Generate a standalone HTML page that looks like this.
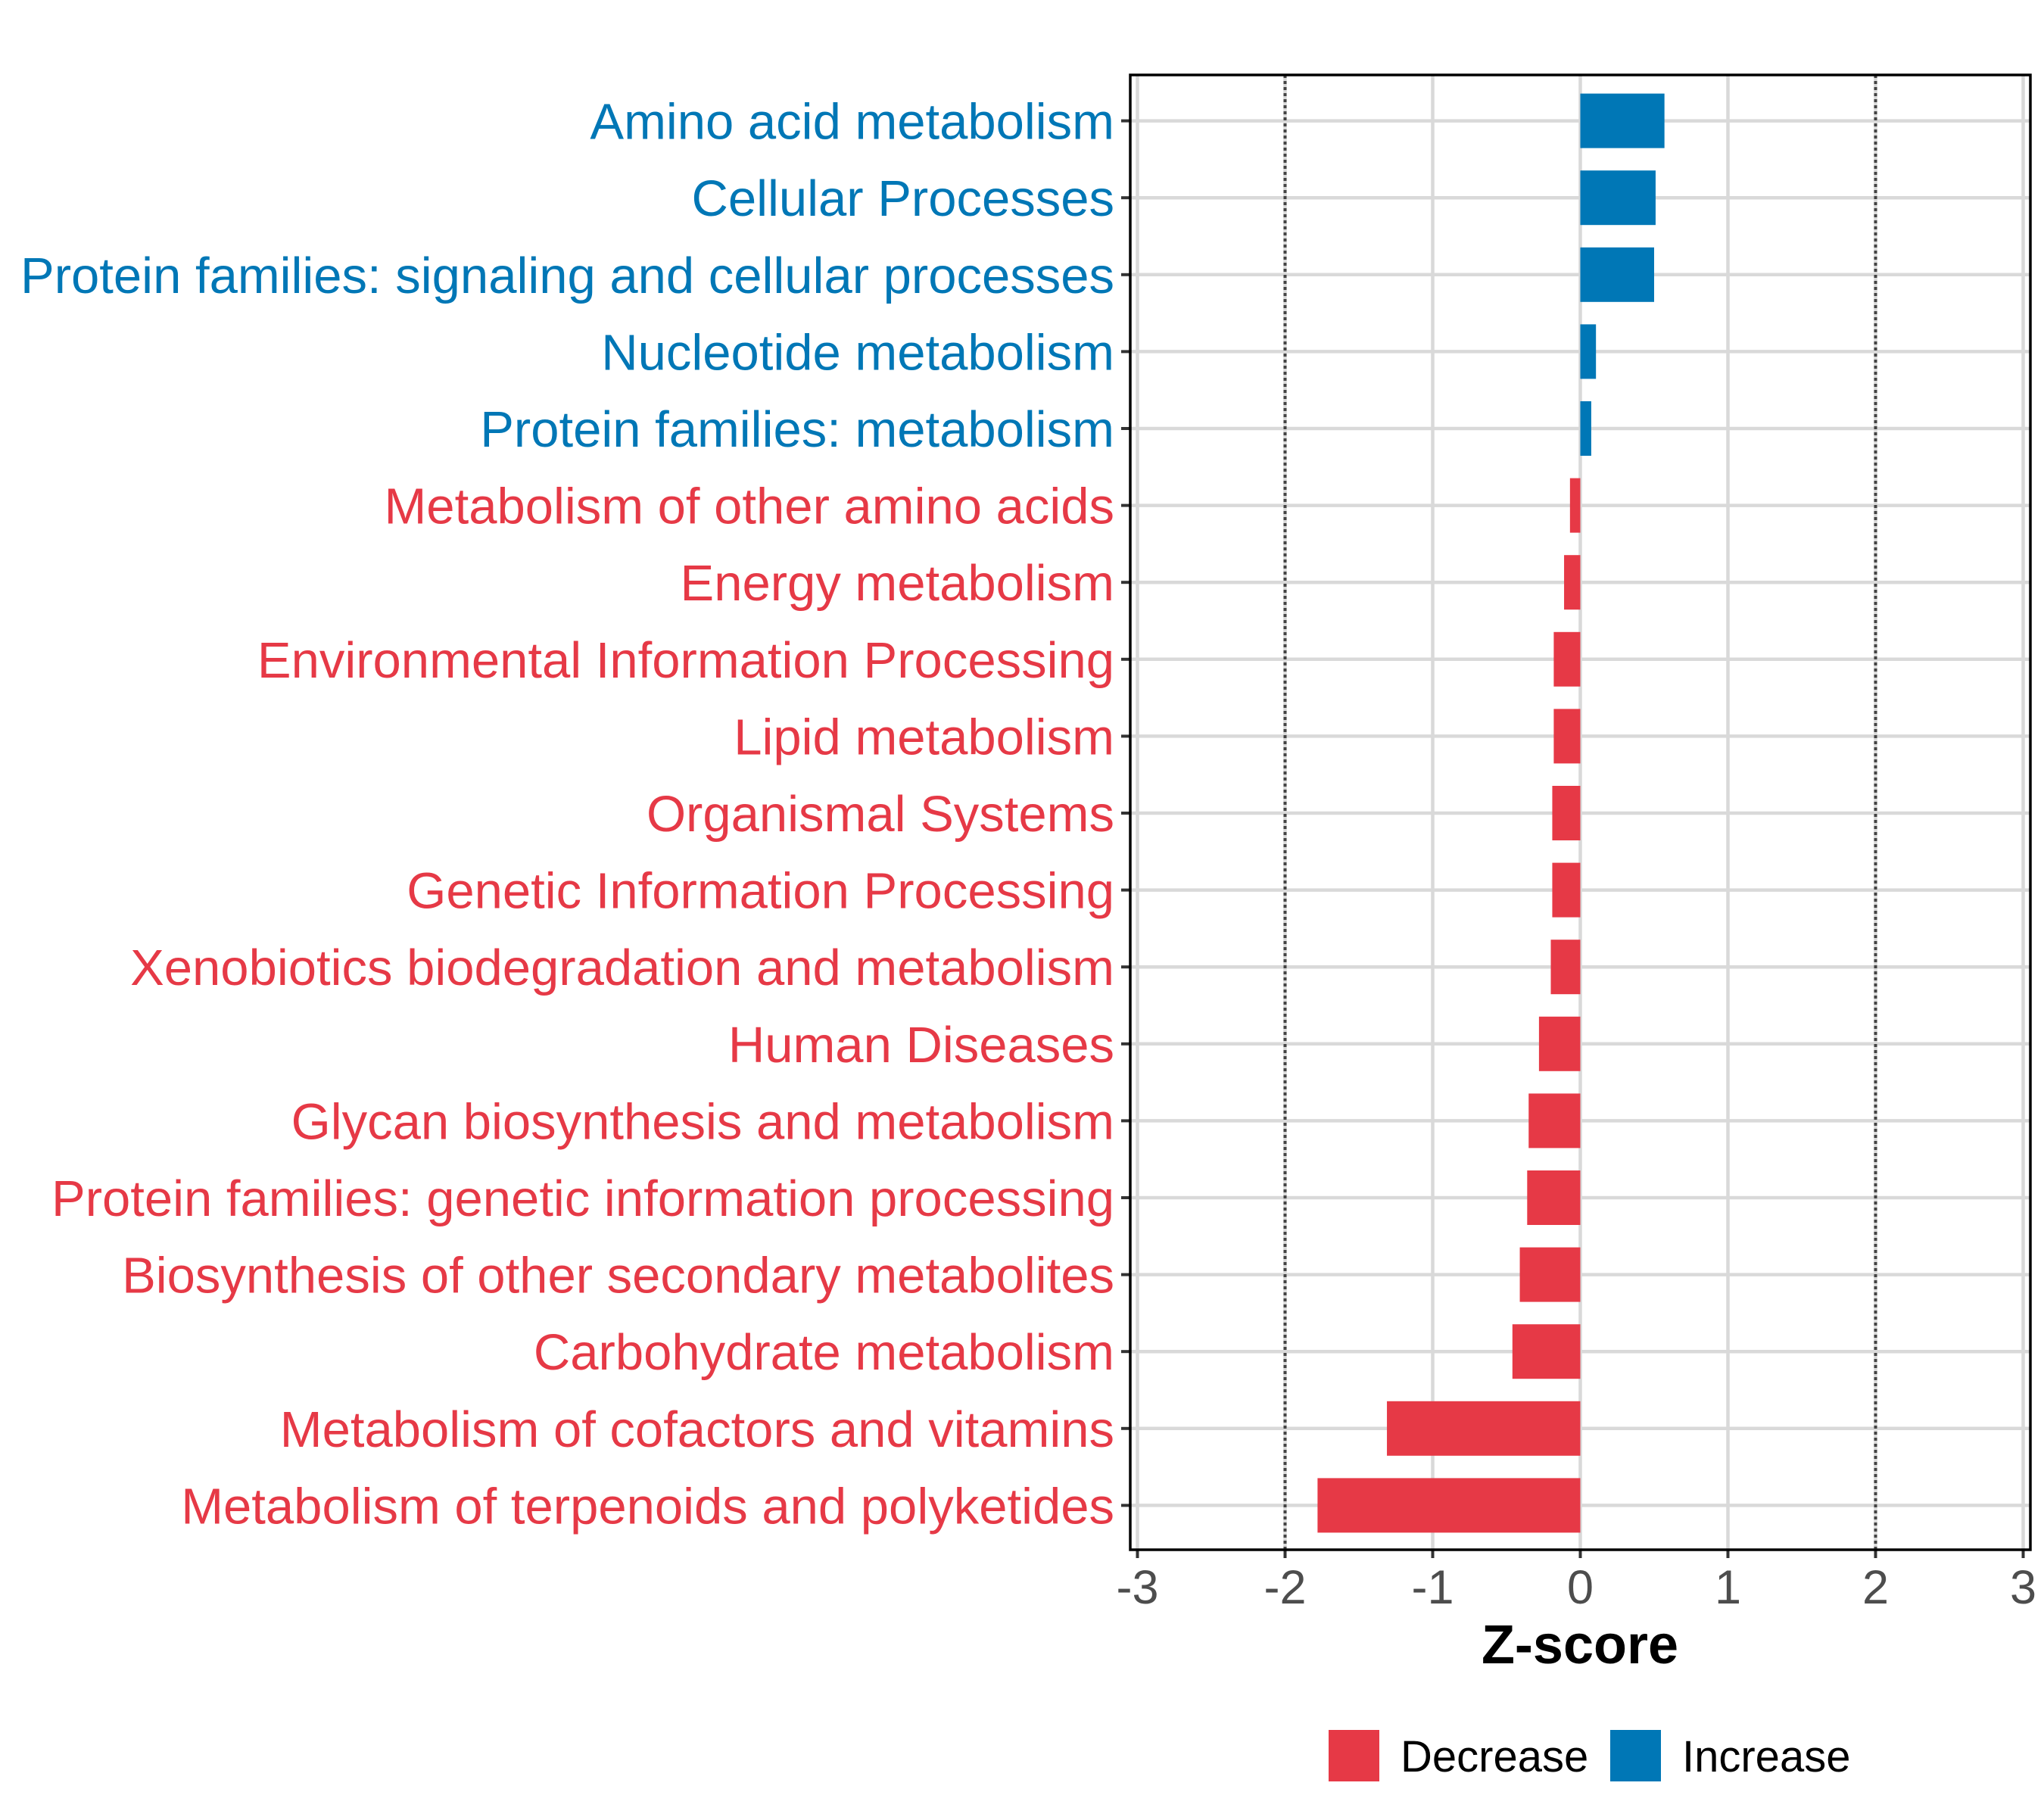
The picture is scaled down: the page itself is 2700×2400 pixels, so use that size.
<!DOCTYPE html>
<html><head><meta charset="utf-8"><style>html,body{margin:0;padding:0;background:#fff}svg{display:block}text{font-family:"Liberation Sans",Arial,sans-serif}</style></head>
<body>
<svg id="chart" width="2700" height="2400" viewBox="0 0 2700 2400" xmlns="http://www.w3.org/2000/svg">
<g id="grid"></g><g id="bars"></g><g id="ylabels"></g><g id="xaxis"></g>
<rect x="1493" y="99" width="1189" height="1948" fill="none" stroke="#000" stroke-width="3.5"/>
<text x="2087" y="2197" text-anchor="middle" font-size="72" font-weight="bold" fill="#000">Z-score</text>
<rect x="1755" y="2285" width="67" height="68" fill="#e63946"/>
<text x="1850" y="2340" font-size="58" fill="#000">Decrease</text>
<rect x="2127" y="2285" width="67" height="68" fill="#0077b6"/>
<text x="2222" y="2340" font-size="58" fill="#000">Increase</text>
</svg>
<script>
const categories = ["Amino acid metabolism","Cellular Processes","Protein families: signaling and cellular processes","Nucleotide metabolism","Protein families: metabolism","Metabolism of other amino acids","Energy metabolism","Environmental Information Processing","Lipid metabolism","Organismal Systems","Genetic Information Processing","Xenobiotics biodegradation and metabolism","Human Diseases","Glycan biosynthesis and metabolism","Protein families: genetic information processing","Biosynthesis of other secondary metabolites","Carbohydrate metabolism","Metabolism of cofactors and vitamins","Metabolism of terpenoids and polyketides"];
const zscores = [0.57,0.51,0.50,0.106,0.074,-0.07,-0.11,-0.18,-0.18,-0.19,-0.19,-0.2,-0.28,-0.35,-0.36,-0.41,-0.46,-1.31,-1.78];
const xTicks = [-3,-2,-1,0,1,2,3];
const xTickLabels = ["-3","-2","-1","0","1","2","3"];
const refLines = [-2,2];

const NS="http://www.w3.org/2000/svg";
const X0=2087.5, UNIT=195, Y0=159.6, STEP=101.6, BARH=72;
const xs=v=>X0+v*UNIT;
const ys=i=>Y0+i*STEP;
function mk(tag,attrs,parent){const e=document.createElementNS(NS,tag);for(const k in attrs)e.setAttribute(k,attrs[k]);parent.appendChild(e);return e;}
const grid=document.getElementById('grid'),bars=document.getElementById('bars'),yl=document.getElementById('ylabels'),xa=document.getElementById('xaxis');
xTicks.forEach((t,i)=>{
  const l=mk('line',{x1:xs(t),x2:xs(t),y1:99,y2:2047,stroke:'#d9d9d9','stroke-width':4.5},grid);
  
  
  const tk=mk('line',{x1:xs(t),x2:xs(t),y1:2047,y2:2058,stroke:'#333','stroke-width':4},xa);
  
  
  const tx=mk('text',{x:xs(t),y:2118,'text-anchor':'middle','font-size':63,fill:'#4d4d4d'},xa);
  tx.textContent=xTickLabels[i];
  
  
});
categories.forEach((c,i)=>{
  const g=mk('line',{x1:1493,x2:2682,y1:ys(i),y2:ys(i),stroke:'#d9d9d9','stroke-width':4.5},grid);
  
  
});
refLines.forEach(r=>{
  const l=mk('line',{x1:xs(r),x2:xs(r),y1:99,y2:2047,stroke:'#444','stroke-width':4,'stroke-dasharray':'4 4'},grid);
  
  
});
categories.forEach((c,i)=>{
  const v=zscores[i], col=v>=0?'#0077b6':'#e63946';
  const b=mk('rect',{x:Math.min(xs(0),xs(v)),y:ys(i)-BARH/2,width:Math.abs(xs(v)-xs(0)),height:BARH,fill:col},bars);
  
  
  const tk=mk('line',{x1:1481,x2:1493,y1:ys(i),y2:ys(i),stroke:'#333','stroke-width':4},yl);
  
  
  const t=mk('text',{x:1472,y:ys(i)+24,'text-anchor':'end','font-size':67,fill:col},yl);
  t.textContent=c;
  
  
});
</script>
</body></html>
